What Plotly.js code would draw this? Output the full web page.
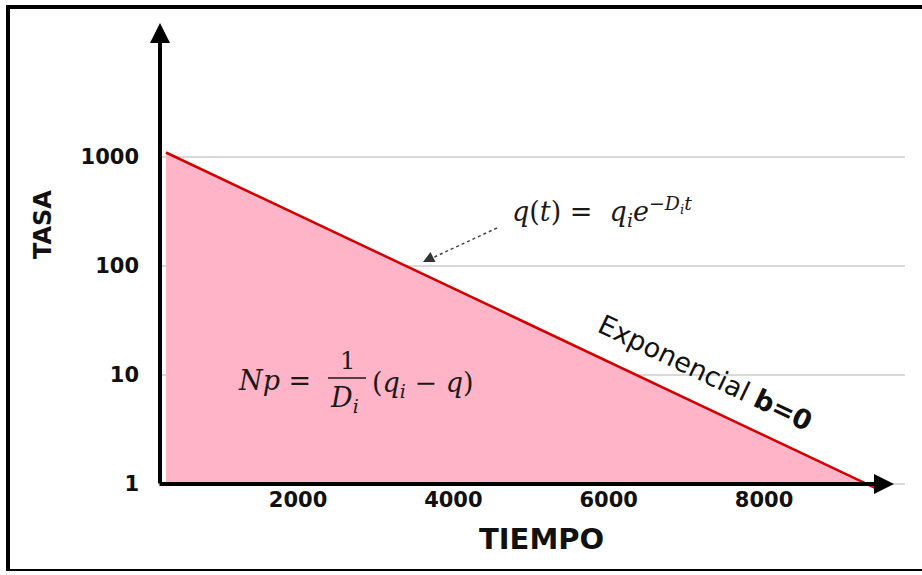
<!DOCTYPE html>
<html>
<head>
<meta charset="utf-8">
<script src="https://cdn.plot.ly/plotly-3.0.1.min.js"></script>
<style>
  html, body { margin: 0; padding: 0; background: #fff; }
  #wrap { position: relative; width: 922px; height: 575px; }
  #chart { width: 922px; height: 575px; }
  #frame { position: absolute; left: 6px; top: 5px; width: 916px; height: 566px;
           border-left: 4px solid #000; border-top: 4px solid #000; border-bottom: 2px solid #000;
           box-sizing: border-box; pointer-events: none; }
</style>
</head>
<body>
<div id="wrap">
  <div id="chart"></div>
  <div id="frame"></div>
</div>
<script>
// ---- data ----
const tiempo = [300, 9490];          // start / end of the decline line
const tasa = [1100, 0.88];           // rate at those times
const baseTasa = [1, 1];             // bottom of the shaded area (q = 1)
const xTickVals = [2000, 4000, 6000, 8000];
const xTickText = ['2000', '4000', '6000', '8000'];
const yTickVals = [1, 10, 100, 1000];
const yTickText = ['1', '10', '100', '1000'];

// ---- layout geometry (pixels) ----
const PL = 160, PR = 905, PT = 20, PB = 490;
const PW = PR - PL, PH = PB - PT;
const px = v => (v - PL) / PW;      // pixel x -> paper
const py = v => (PB - v) / PH;      // pixel y -> paper

const traces = [
  { x: tiempo, y: baseTasa, mode: 'lines', line: { width: 0, color: 'rgba(0,0,0,0)' },
    hoverinfo: 'skip', showlegend: false },
  { x: tiempo, y: tasa, mode: 'lines', fill: 'tonexty', fillcolor: '#FFB4C8',
    line: { color: '#D10000', width: 2.5 }, showlegend: false }
];

const tickFont = { family: 'DejaVu Sans', size: 21, color: '#111', weight: 'bold' };
const mathFont = { family: 'DejaVu Serif', size: 27, color: '#1a1a1a' };

function label(xp, yp, text, font, extra) {
  return Object.assign({ xref: 'paper', yref: 'paper', x: px(xp), y: py(yp), text: text,
    showarrow: false, xanchor: 'center', yanchor: 'middle', font: font }, extra || {});
}

const annotations = [
  // axis arrows
  { xref: 'paper', yref: 'paper', x: px(160), y: py(23), ax: 0, ay: 462, text: '',
    showarrow: true, arrowhead: 2, arrowsize: 1, arrowwidth: 4, arrowcolor: '#000' },
  { xref: 'paper', yref: 'paper', x: px(894), y: py(484), ax: -736, ay: 0, text: '',
    showarrow: true, arrowhead: 2, arrowsize: 1, arrowwidth: 4, arrowcolor: '#000' },
  // axis titles
  label(541, 539, 'TIEMPO', { family: 'DejaVu Sans', size: 29, color: '#111', weight: 'bold' }),
  label(43, 225, 'TASA', { family: 'DejaVu Sans', size: 24, color: '#111', weight: 'bold' }, { textangle: -90 }),
  // q(t) formula
  label(510, 211, '<i>q</i>(<i>t</i>) =  <i>q</i><sub><i>i</i></sub><i>e</i><sup>−<i>D</i><sub><i>i</i></sub><i>t</i></sup>',
    { family: 'DejaVu Serif', size: 27, color: '#1a1a1a' }, { xanchor: 'left' }),
  // arrow head of dotted pointer
  { xref: 'paper', yref: 'paper', x: px(423), y: py(262), ax: 10, ay: -5, text: '',
    showarrow: true, arrowhead: 2, arrowsize: 1.6, arrowwidth: 1.4, arrowcolor: '#333' },
  // Np formula
  label(236, 380, '<i>Np</i> =', mathFont, { xanchor: 'left' }),
  label(347, 361, '1', { family: 'DejaVu Serif', size: 24, color: '#1a1a1a' }),
  label(328, 399, '<i>D</i><sub><i>i</i></sub>', mathFont, { xanchor: 'left' }),
  label(370, 384, '(<i>q</i><sub><i>i</i></sub> − <i>q</i>)', mathFont, { xanchor: 'left' }),
  // Exponencial label
  label(705, 372, 'Exponencial <b>b=0</b>', { family: 'DejaVu Sans', size: 27, color: '#111' }, { textangle: 25.5 })
];

const shapes = [
  // dotted pointer line
  { type: 'line', xref: 'paper', yref: 'paper', x0: px(497), y0: py(228), x1: px(430), y1: py(259),
    line: { color: '#444', width: 1.5, dash: 'dot' } },
  // fraction bar
  { type: 'line', xref: 'paper', yref: 'paper', x0: px(328), y0: py(378), x1: px(366), y1: py(378),
    line: { color: '#1a1a1a', width: 1.5 } }
];

const layout = {
  width: 922, height: 575,
  margin: { l: PL, r: 922 - PR, t: PT, b: 575 - PB, pad: 0 },
  paper_bgcolor: '#fff', plot_bgcolor: '#fff',
  showlegend: false,
  xaxis: {
    range: [223, 9815], showgrid: false, zeroline: false, showline: false,
    tickvals: xTickVals, ticktext: xTickText, ticks: '', tickfont: tickFont,
    ticklabelstandoff: -5
  },
  yaxis: {
    type: 'log', range: [-0.055, 4.257], showgrid: true, gridcolor: '#d9d9d9', gridwidth: 1.5,
    zeroline: false, showline: false, tickvals: yTickVals, ticktext: yTickText, ticks: '',
    tickfont: tickFont, ticklabelstandoff: 20
  },
  annotations: annotations,
  shapes: shapes
};

Plotly.newPlot('chart', traces, layout, { displayModeBar: false, staticPlot: true });
</script>
</body>
</html>
